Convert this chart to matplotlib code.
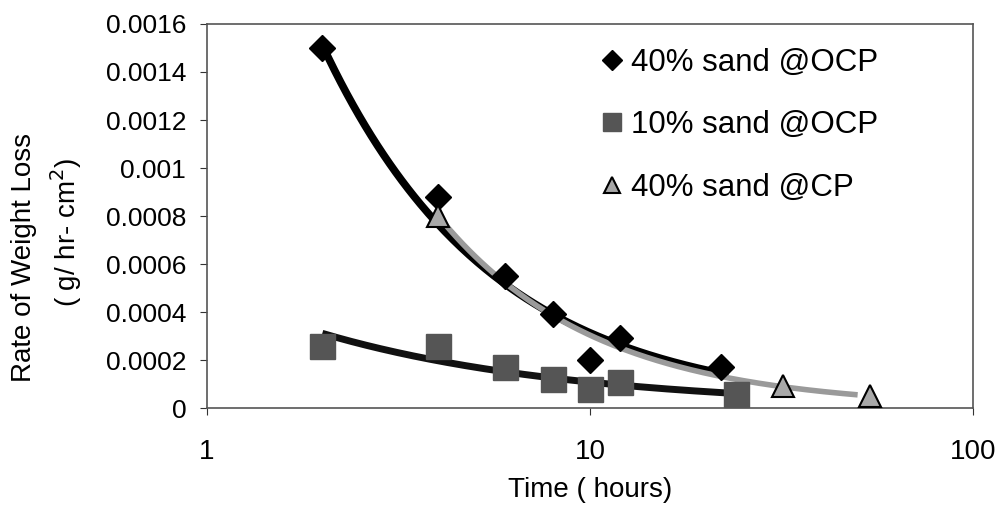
import numpy as np
import matplotlib
matplotlib.use("Agg")
import matplotlib.pyplot as plt

plt.rcParams['font.family'] = ['Liberation Sans', 'DejaVu Sans']

# Data
t_40ocp = [2, 4, 6, 8, 10, 12, 22]
r_40ocp = [0.0015, 0.00088, 0.00055, 0.00039, 0.00020, 0.00029, 0.00017]

t_10ocp = [2, 4, 6, 8, 10, 12, 24]
r_10ocp = [0.00026, 0.00026, 0.00017, 0.00012, 0.00008, 0.00011, 0.00006]

t_40cp = [4, 32, 54]
r_40cp = [0.00080, 0.00009, 0.00005]

labels = ['40% sand @OCP', '10% sand @OCP', '40% sand @CP']
ytick_vals = [0, 0.0002, 0.0004, 0.0006, 0.0008, 0.001, 0.0012, 0.0014, 0.0016]
ytick_labels = ['0', '0.0002', '0.0004', '0.0006', '0.0008', '0.001', '0.0012', '0.0014', '0.0016']
xtick_vals = [1, 10, 100]
xtick_labels = ['1', '10', '100']

def power_fit(t, r, t0, t1):
    b, la = np.polyfit(np.log(t), np.log(r), 1)
    tt = np.geomspace(t0, t1, 200)
    return tt, np.exp(la) * tt ** b

fig = plt.figure(figsize=(10.03, 5.05), dpi=100)
ax = fig.add_axes([0.2064, 0.192, 0.7636, 0.7605])

# trend lines
tt, rr = power_fit(t_10ocp, r_10ocp, 2, 24)
ax.plot(tt, rr, color='#111111', lw=5, solid_capstyle='butt', zorder=2)
tt, rr = power_fit(t_40ocp, r_40ocp, 2, 23)
ax.plot(tt, rr, color='#000000', lw=5.5, solid_capstyle='butt', zorder=2)
tt, rr = power_fit(t_40cp, r_40cp, 4, 50)
ax.plot(tt, rr, color='#9a9a9a', lw=4, solid_capstyle='butt', zorder=3)

# markers
ax.plot(t_10ocp, r_10ocp, 's', ms=18, color='#555555', mec='#555555', ls='none', zorder=4, label=labels[1])
ax.plot(t_40ocp, r_40ocp, 'D', ms=13.5, color='#000000', ls='none', zorder=5, label=labels[0])
ax.plot(t_40cp, r_40cp, '^', ms=16, color='#a8a8a8', mec='#000000', mew=1.5, ls='none', zorder=6, label=labels[2])

ax.set_xscale('log')
ax.set_xlim(1, 100)
ax.set_ylim(0, 0.0016)
ax.set_xticks(xtick_vals)
ax.set_xticklabels(xtick_labels)
ax.xaxis.set_minor_locator(matplotlib.ticker.NullLocator())
ax.set_yticks(ytick_vals)
ax.set_yticklabels(ytick_labels)
ax.tick_params(axis='both', direction='out', color='#333333', length=5)
ax.tick_params(axis='x', labelsize=20, pad=17)
ax.tick_params(axis='y', labelsize=19, pad=10)

for s in ax.spines.values():
    s.set_color('#555555')
    s.set_linewidth(1.2)

ax.set_xlabel('Time ( hours)', fontsize=20, labelpad=9)
fig.text(0.024, 0.49, 'Rate of Weight Loss', rotation=90, fontsize=20, ha='center', va='center')
fig.text(0.066, 0.54, '( g/ hr- cm$^2$)', rotation=90, fontsize=20, ha='center', va='center')

h, l = ax.get_legend_handles_labels()
order = [1, 0, 2]
leg = ax.legend([h[i] for i in order], [l[i] for i in order], loc='upper left',
                bbox_to_anchor=(0.48, 1.012), frameon=False, fontsize=22.5,
                handlelength=0.6, handletextpad=0.3, labelspacing=1.05, markerscale=0.75)

fig.savefig('out.png', dpi=100)
